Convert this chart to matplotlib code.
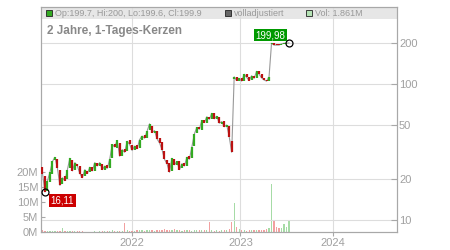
import matplotlib
matplotlib.use('Agg')
import matplotlib.pyplot as plt
from matplotlib.patches import Rectangle
from matplotlib.ticker import NullLocator
import numpy as np

plt.rcParams['font.family'] = ['Liberation Sans', 'DejaVu Sans']

# candle data (one bar every few trading days)
opens = [24.5, 21.0, 16.5, 19.0, 22.0, 27.5, 28.0, 23.5, 18.5, 21.0,
         20.0, 24.0, 27.5, 23.5, 26.0, 25.0, 22.0, 21.0, 23.0, 22.5,
         24.5, 23.0, 26.5, 25.0, 26.0, 23.5, 25.5, 24.0, 28.5, 36.5,
         34.0, 37.0, 29.5, 33.5, 32.0, 38.5, 35.5, 32.5, 35.5, 34.0,
         39.0, 42.0, 40.0, 46.0, 49.0, 44.0, 45.0, 40.0, 37.5, 32.0,
         27.5, 26.5, 23.0, 28.0, 25.5, 27.0, 24.0, 26.5, 25.0, 29.5,
         28.5, 35.0, 43.5, 48.5, 46.0, 54.5, 52.0, 57.5, 55.5, 61.5,
         55.0, 57.5, 51.0, 53.5, 48.0, 49.0, 38.0, 108.0, 113.0, 106.0,
         110.0, 105.5, 118.0, 112.0, 106.5, 115.0, 111.0, 124.5, 118.0, 111.0,
         107.0, 105.5, 195.0, 199.0, 198.0, 197.0, 194.0, 195.0, 197.0, 199.7]
closes = [22.0, 16.11, 19.5, 22.5, 27.0, 29.0, 24.0, 18.0, 20.5, 19.5,
          23.5, 28.5, 23.0, 26.5, 25.0, 22.0, 20.5, 23.5, 22.0, 24.5,
          23.0, 26.5, 25.0, 26.5, 23.5, 25.0, 24.0, 28.0, 36.0, 34.5,
          38.5, 29.5, 33.0, 31.5, 38.0, 36.0, 32.5, 35.0, 33.5, 39.0,
          41.5, 40.0, 45.0, 51.0, 44.0, 45.5, 39.5, 37.0, 33.0, 28.0,
          26.0, 22.5, 28.5, 25.5, 27.0, 23.5, 26.0, 25.0, 29.0, 28.0,
          34.5, 43.0, 48.0, 46.5, 54.0, 52.0, 57.5, 55.0, 61.0, 55.5,
          58.0, 51.5, 53.0, 48.5, 50.0, 41.0, 31.5, 113.0, 106.0, 110.0,
          105.0, 118.0, 112.0, 106.0, 115.0, 110.0, 124.0, 118.0, 111.0, 107.0,
          105.0, 113.0, 199.0, 193.0, 193.0, 193.0, 197.0, 199.0, 199.5, 199.98]
volumes = [0.6, 0.5, 0.4, 0.5, 0.3, 0.4, 0.3, 0.5, 1.2, 0.4,
           0.3, 0.5, 0.4, 0.3, 0.3, 0.2, 0.2, 0.1, 0.1, 0.1,
           0.1, 0.2, 0.1, 0.5, 0.3, 0.4, 0.4, 0.5, 0.6, 0.5,
           0.4, 0.5, 0.4, 3.1, 0.6, 0.5, 0.4, 0.5, 0.6, 0.7,
           0.6, 0.5, 0.6, 0.8, 0.6, 0.5, 0.7, 0.6, 0.8, 0.9,
           0.7, 0.6, 0.8, 0.9, 0.7, 0.6, 0.5, 0.6, 0.7, 0.6,
           0.5, 0.8, 0.7, 0.6, 0.6, 0.7, 0.8, 3.4, 0.6, 0.5,
           0.6, 0.5, 0.7, 0.8, 0.6, 1.0, 3.4, 9.8, 1.8, 1.0,
           0.8, 0.6, 0.5, 0.6, 0.7, 0.6, 0.8, 0.7, 0.6, 0.8,
           0.9, 1.2, 16.0, 3.8, 1.6, 1.4, 1.2, 2.7, 1.8, 3.8]

year_pos = [35.8, 79.5, 116.5]
year_labels = ['2022', '2023', '2024']
price_ticks = [10, 20, 50, 100, 200]
vol_ticks = [0, 5, 10, 15, 20]

title = '2 Jahre, 1-Tages-Kerzen'
legend_items = [('Op:199.7, Hi:200, Lo:199.6, Cl:199.9', '#33aa22'),
                ('volladjustiert', '#666666'),
                ('Vol: 1.861M', '#b4e2b4')]

W, H = 450, 250
GREEN, RED = '#33aa22', '#bb1111'
GREY = '#a8a8a8'

opens = np.array(opens)
closes = np.array(closes)
idx = np.arange(len(closes))
up = closes >= opens

fig = plt.figure(figsize=(W / 100, H / 100), dpi=100)
ax = fig.add_axes([41 / W, 18 / H, 356 / W, 225 / H])
axp = ax.twinx()

# header band inside the frame
ax.add_patch(Rectangle((0, 1 - 12 / 225), 1, 12 / 225, transform=ax.transAxes,
                       color='#e6e6e6', zorder=0.1, lw=0))

# volume
ax.bar(idx, volumes, width=0.5, color=np.where(up, '#a6dba6', '#f2a0a0'), linewidth=0, zorder=1)
ax.set_ylim(0, 75)
ax.set_xlim(-0.6, 142.4)
ax.set_yticks(vol_ticks)
ax.set_yticklabels(['%dM' % v for v in vol_ticks])
ax.set_xticks(year_pos)
ax.set_xticklabels(year_labels)
ax.set_axisbelow(True)
ax.grid(axis='x', color='#dddddd', lw=0.8)
ax.tick_params(axis='y', direction='in', length=3, color=GREY, labelcolor='#a0a0a0',
               labelsize=8, pad=2)
ax.tick_params(axis='x', direction='out', length=3, color=GREY, labelcolor='#a0a0a0',
               labelsize=8, pad=1.5)

# price
axp.set_yscale('log')
axp.set_ylim(8.19, 367.6)
axp.set_yticks(price_ticks)
axp.set_yticklabels([str(p) for p in price_ticks])
axp.yaxis.set_minor_locator(NullLocator())
axp.grid(axis='y', color='#dddddd', lw=0.8, zorder=0.5)
axp.tick_params(axis='y', direction='in', length=4, color=GREY, labelcolor='#a0a0a0',
                labelsize=8, pad=1.5)
axp.plot(idx, closes, color='#999999', lw=0.8, zorder=2)
axp.vlines(idx, np.minimum(opens, closes), np.maximum(opens, closes),
           colors=np.where(up, GREEN, RED), lw=1.6, zorder=3)

for a in (ax, axp):
    for s in a.spines.values():
        s.set_color(GREY)
        s.set_linewidth(0.8)

# high / low markers
i_lo = int(np.argmin(closes))
axp.plot([idx[-1], i_lo], [closes[-1], closes[i_lo]], 'o', mfc='none', mec='black',
         ms=5, mew=0.9, zorder=5)
axp.annotate(('%.2f' % closes[-1]).replace('.', ','), xy=(idx[-1], closes[-1]),
             xytext=(-18.5, 8), textcoords='offset pixels', ha='center', va='center',
             color='white', fontsize=7,
             bbox=dict(boxstyle='square,pad=0.15', fc='#009900', ec='none'), zorder=6)
axp.annotate(('%.2f' % closes[i_lo]).replace('.', ','), xy=(i_lo, closes[i_lo]),
             xytext=(17.5, -8.5), textcoords='offset pixels', ha='center', va='center',
             color='white', fontsize=7,
             bbox=dict(boxstyle='square,pad=0.15', fc='#cc0000', ec='none'), zorder=6)

# header legend and title
legend_x = [46, 225, 306]
for (label, color), lx in zip(legend_items, legend_x):
    fig.patches.append(Rectangle((lx / W, 1 - 16 / H), 6 / W, 6 / H, transform=fig.transFigure,
                                 fc=color, ec='#222222', lw=0.6, figure=fig))
    fig.text((lx + 9) / W, 1 - 13.2 / H, label, color='#999999', fontsize=6.5,
             ha='left', va='center')
fig.text(47 / W, 1 - 31 / H, title, color='#888888', fontsize=8.5, fontweight='bold',
         ha='left', va='center')

fig.savefig('out.png', dpi=100)
